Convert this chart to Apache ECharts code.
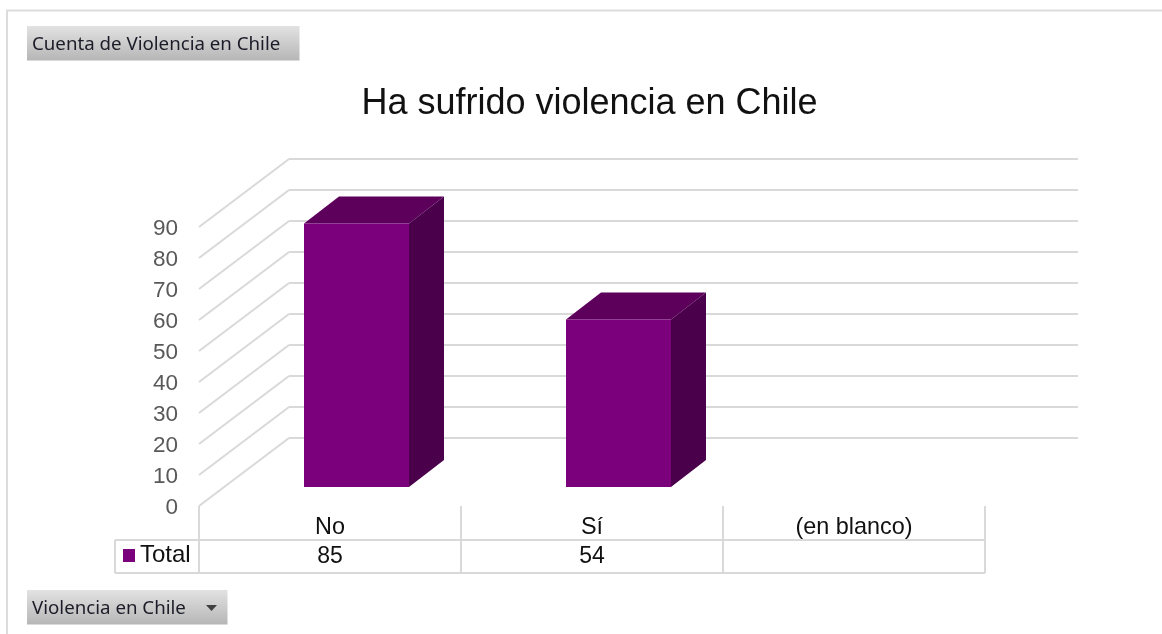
<!DOCTYPE html>
<html>
<head>
<meta charset="utf-8">
<style>html,body{margin:0;padding:0;background:#fff}#c{width:1162px;height:634px}</style>
<script src="https://cdn.jsdelivr.net/npm/echarts@6/dist/echarts.min.js"></script>
</head>
<body>
<div id="c"></div>
<script>
const titleText = 'Ha sufrido violencia en Chile';
const seriesName = 'Total';
const categories = ['No', 'Sí', '(en blanco)'];
const totals = [85, 54, null];
const yTicks = [0, 10, 20, 30, 40, 50, 60, 70, 80, 90];
const pageField = 'Cuenta de Violencia en Chile';
const axisField = 'Violencia en Chile';

const WALL_DX = 90, WALL_DY = -68;          // perspective offset of the back wall
const BAR_DX = 26, BAR_DY = -19;            // front face of bars relative to axis plane
const DEPTH_DX = 35, DEPTH_DY = -27;        // bar depth
const BAR_W = 105;
const GRID = '#d9d9d9', FRONT = '#7b007b', TOP = '#5c005c', SIDE = '#4b004b';
const SANS = '"Liberation Sans", Arial, sans-serif';
const BTN = '"Noto Sans", sans-serif';

function poly(points, fill) {
  return { type: 'polygon', shape: { points }, style: { fill } };
}
function gridLine(x1, y1, x2, y2) {
  return { type: 'line', shape: { x1, y1, x2, y2 }, style: { stroke: GRID, lineWidth: 2, fill: null } };
}
function button(x, y, w, label) {
  return [
    { type: 'rect', shape: { x, y, width: w, height: 34.5 },
      style: { fill: new echarts.graphic.LinearGradient(0, 0, 0, 1, [
        { offset: 0, color: '#e2e2e2' }, { offset: 1, color: '#b6b6b6' }]) } },
    { type: 'text', x: x + 5, y: y + 19,
      style: { text: label, font: '18.7px ' + BTN, fill: '#1c1c28', verticalAlign: 'middle' } }
  ];
}

const tableX = [199, 461, 723, 985];
const graphicEls = [
  { type: 'polyline', shape: { points: [[7, 634], [7, 10.5], [1162, 10.5]] }, style: { stroke: '#dcdcdc', lineWidth: 2, fill: null } },
  ...button(27, 26, 272.5, pageField),
  ...button(27, 590, 200.5, axisField),
  { type: 'polygon', shape: { points: [[206, 605], [217, 605], [211.5, 611]] }, style: { fill: '#404040' } },
  gridLine(115, 540, 985, 540),
  gridLine(115, 573, 985, 573),
  gridLine(115, 540, 115, 573),
  ...tableX.map(x => gridLine(x, 506, x, 573))
];

const option = {
  animation: false,
  backgroundColor: '#fff',
  title: {
    text: titleText, left: 584.5, top: 81, textAlign: 'center',
    textStyle: { fontFamily: SANS, fontSize: 36, fontWeight: 'normal', color: '#111' }
  },
  legend: {
    left: 123, top: 543.5, padding: 0, itemWidth: 12, itemHeight: 13, icon: 'rect', selectedMode: false,
    data: [{ name: seriesName, itemStyle: { color: FRONT } }],
    textStyle: { fontFamily: SANS, fontSize: 24, color: '#111' }
  },
  grid: { left: 199, top: 227, width: 786, height: 279, containLabel: false },
  xAxis: {
    type: 'category', data: categories,
    axisLine: { show: false }, axisTick: { show: false }, splitLine: { show: false },
    axisLabel: { fontFamily: SANS, fontSize: 23.4, color: '#111', margin: 10 }
  },
  yAxis: {
    type: 'value', min: 0, max: 90, interval: 10,
    axisLine: { show: false }, axisTick: { show: false }, splitLine: { show: false },
    axisLabel: { fontFamily: SANS, fontSize: 22.5, color: '#595959', margin: 21, verticalAlign: 'top', lineHeight: 3 }
  },
  series: [
    {
      type: 'custom', name: 'walls', silent: true, z: 1,
      data: yTicks.map(v => [0, v]),
      encode: { x: 0, y: 1 },
      renderItem(params, api) {
        const y = api.coord([0, api.value(1)])[1];
        const xL = params.coordSys.x, xR = xL + params.coordSys.width;
        return { type: 'group', children: [
          gridLine(xL, y, xL + WALL_DX, y + WALL_DY),
          gridLine(xL + WALL_DX, y + WALL_DY, xR + WALL_DX + 3, y + WALL_DY)
        ] };
      }
    },
    {
      type: 'custom', name: seriesName, silent: true, z: 3,
      data: categories.map((c, i) => [i, totals[i]]),
      encode: { x: 0, y: 1 },
      renderItem(params, api) {
        const i = api.value(0), v = api.value(1);
        const base = api.coord([i, 0]);
        const children = [];
        if (v === v && totals[i] !== null) {
          const top = api.coord([i, v]);
          const l = base[0] - BAR_W / 2 + BAR_DX + 0.5, r = l + BAR_W;
          const b = base[1] + BAR_DY, t = top[1] + BAR_DY;
          children.push(
            poly([[l, t], [l + DEPTH_DX, t + DEPTH_DY], [r + DEPTH_DX, t + DEPTH_DY], [r, t]], TOP),
            poly([[r, t], [r + DEPTH_DX, t + DEPTH_DY], [r + DEPTH_DX, b + DEPTH_DY], [r, b]], SIDE),
            poly([[l, t], [r, t], [r, b], [l, b]], FRONT),
            { type: 'text', x: base[0], y: base[1] + 51,
              style: { text: String(totals[i]), font: '23px ' + SANS, fill: '#111', align: 'center', verticalAlign: 'middle' } }
          );
        }
        return { type: 'group', children };
      }
    }
  ],
  graphic: { elements: graphicEls }
};

const chart = echarts.init(document.getElementById('c'), null, { renderer: 'canvas' });
chart.setOption(option);
</script>
</body>
</html>
